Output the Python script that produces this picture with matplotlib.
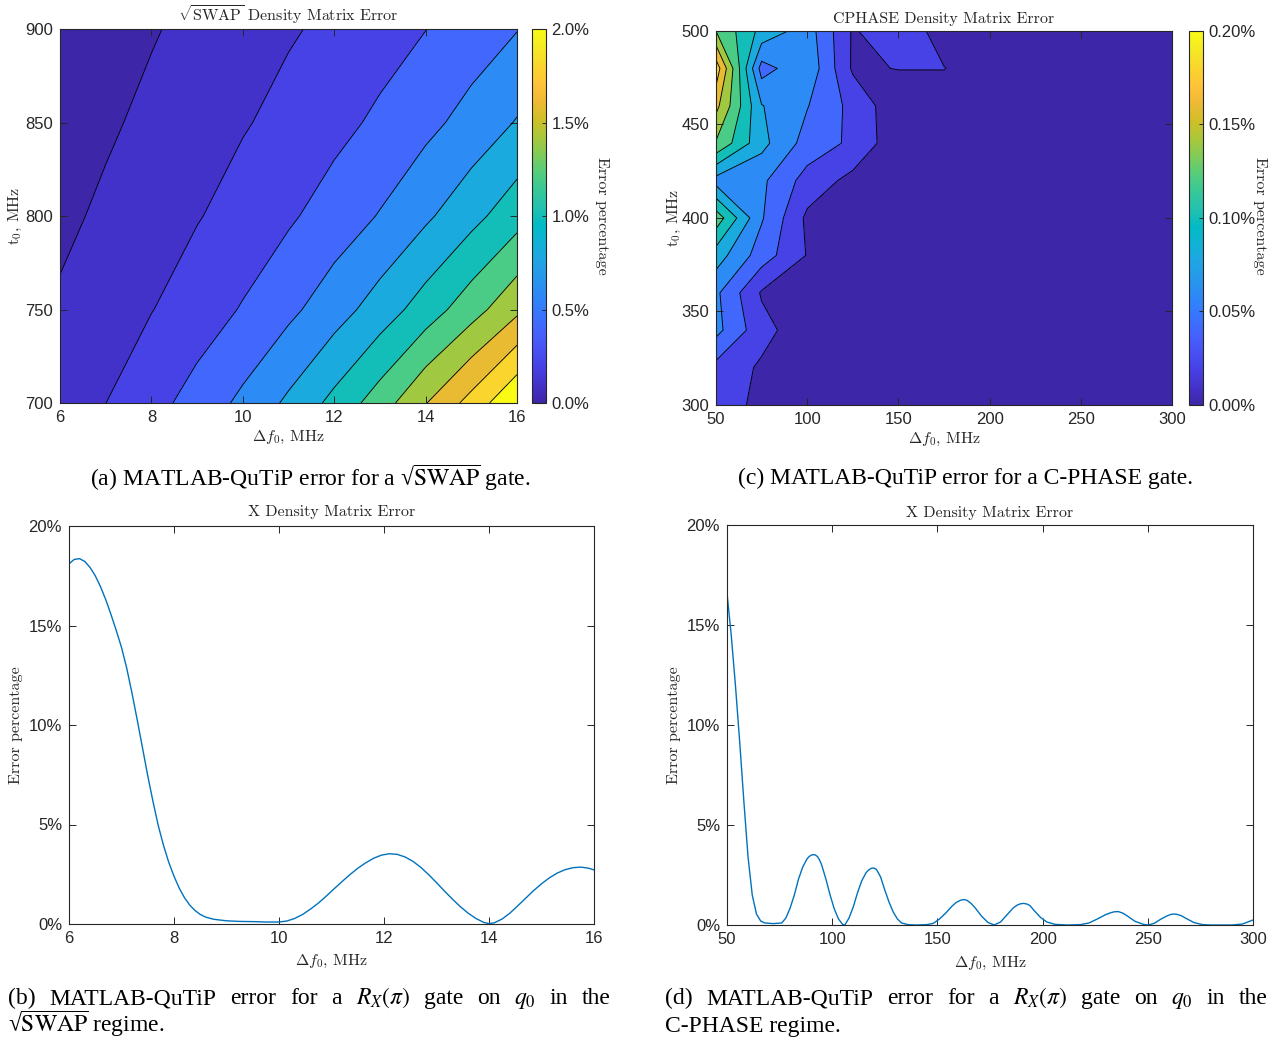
import numpy as np
import matplotlib
matplotlib.use("Agg")
import matplotlib.pyplot as plt
from matplotlib.colors import LinearSegmentedColormap, Normalize
from matplotlib.ticker import FuncFormatter
import matplotlib.cm as cm

# ---------------------------------------------------------------- data
# (a) sqrt(SWAP) density-matrix error [%] on a (t0, delta f0) grid
df_swap = [6, 7, 8, 9, 10, 11, 12, 13, 14, 15, 16]          # MHz
t0_swap = [700, 750, 800, 850, 900]                         # MHz
err_swap = [
    [0.152, 0.199, 0.331, 0.478, 0.645, 0.837, 1.057, 1.301, 1.591, 1.871, 2.194],
    [0.112, 0.153, 0.194, 0.297, 0.415, 0.553, 0.711, 0.891, 1.094, 1.315, 1.556],
    [0.080, 0.116, 0.153, 0.189, 0.271, 0.372, 0.488, 0.612, 0.766, 0.936, 1.122],
    [0.054, 0.087, 0.120, 0.153, 0.186, 0.251, 0.341, 0.437, 0.546, 0.670, 0.813],
    [0.033, 0.063, 0.093, 0.123, 0.153, 0.183, 0.235, 0.316, 0.397, 0.495, 0.593],
]
levels_swap = [0, 0.1, 0.2, 0.4, 0.6, 0.8, 1.0, 1.2, 1.4, 1.6, 1.8, 2.0, 3.0]

# (c) CPHASE density-matrix error [%]
df_cp = [50, 75, 100, 125, 150, 175, 200, 225, 250, 275, 300]
t0_cp = [300, 320, 340, 360, 380, 400, 420, 440, 460, 480, 500]
err_cp = [
    [0.032, 0.014, 0.006, 0.005, 0.005, 0.004, 0.004, 0.003, 0.003, 0.003, 0.003],
    [0.034, 0.017, 0.006, 0.005, 0.004, 0.004, 0.004, 0.003, 0.003, 0.003, 0.002],
    [0.066, 0.027, 0.007, 0.005, 0.004, 0.004, 0.003, 0.003, 0.003, 0.002, 0.002],
    [0.064, 0.018, 0.007, 0.005, 0.004, 0.004, 0.003, 0.003, 0.002, 0.002, 0.002],
    [0.090, 0.050, 0.019, 0.006, 0.005, 0.004, 0.003, 0.003, 0.002, 0.002, 0.002],
    [0.132, 0.062, 0.016, 0.006, 0.005, 0.004, 0.003, 0.003, 0.002, 0.002, 0.002],
    [0.072, 0.064, 0.032, 0.014, 0.006, 0.005, 0.004, 0.003, 0.003, 0.002, 0.002],
    [0.138, 0.086, 0.052, 0.036, 0.006, 0.005, 0.004, 0.003, 0.003, 0.002, 0.002],
    [0.166, 0.081, 0.061, 0.034, 0.006, 0.006, 0.004, 0.003, 0.003, 0.003, 0.002],
    [0.192, 0.052, 0.0752, 0.0172, 0.0206, 0.0206, 0.008, 0.004, 0.003, 0.003, 0.003],
    [0.140, 0.0938, 0.070, 0.0177, 0.0356, 0.010, 0.006, 0.004, 0.003, 0.003, 0.003],
]
levels_cp = [0, 0.02, 0.04, 0.06, 0.08, 0.10, 0.12, 0.14, 0.16, 0.18, 0.20, 1.0]

# (b) X-gate error in the sqrt(SWAP) regime
df_x_swap = [6.0, 6.1, 6.2, 6.3, 6.4, 6.5, 6.6, 6.7, 6.8, 6.9, 7.0, 7.1, 7.2, 7.3,
             7.4, 7.5, 7.6, 7.7, 7.8, 7.9, 8.0, 8.1, 8.2, 8.3, 8.4, 8.5, 8.6,
             8.75, 9.0, 9.25, 9.5, 9.75, 10.0, 10.15, 10.3, 10.45, 10.6, 10.75,
             10.9, 11.05, 11.2, 11.35, 11.5, 11.65, 11.8, 11.95, 12.1, 12.25,
             12.4, 12.55, 12.7, 12.85, 13.0, 13.15, 13.3, 13.45, 13.6, 13.75,
             13.9, 14.0, 14.1, 14.25, 14.4, 14.55, 14.7, 14.85, 15.0, 15.15,
             15.3, 15.45, 15.6, 15.75, 15.9, 16.0]
err_x_swap = [18.10, 18.32, 18.36, 18.22, 17.92, 17.50, 16.95, 16.30, 15.55, 14.75,
              13.90, 12.85, 11.60, 10.25, 8.85, 7.45, 6.15, 4.95, 3.95, 3.10, 2.40,
              1.80, 1.32, 0.95, 0.68, 0.48, 0.35, 0.24, 0.16, 0.13, 0.12, 0.10,
              0.10, 0.15, 0.28, 0.48, 0.75, 1.05, 1.40, 1.77, 2.13, 2.48, 2.80,
              3.07, 3.30, 3.46, 3.53, 3.50, 3.37, 3.15, 2.85, 2.48, 2.08, 1.66,
              1.26, 0.88, 0.55, 0.28, 0.08, 0.02, 0.06, 0.25, 0.55, 0.92, 1.30,
              1.68, 2.02, 2.32, 2.56, 2.73, 2.83, 2.86, 2.80, 2.72]

# (d) X-gate error in the CPHASE regime
df_x_cp = [50, 52, 54, 56, 58, 60, 62, 64, 66, 68, 72, 76, 78, 80, 82, 84, 86, 88,
           89, 90, 91, 92, 93, 94, 95, 97, 99, 101, 103, 105, 106, 108, 110, 112,
           114, 116, 117, 118, 119, 120, 121, 122, 123, 125, 127, 129, 131, 133,
           136, 140, 145, 148, 151, 154, 157, 159, 161, 162.5, 164, 166, 168, 171,
           174, 177, 180, 183, 186, 188, 189.5, 191, 192.5, 194, 196, 199, 202,
           206, 212, 218, 222, 226, 230, 232, 234, 236, 238, 240, 244, 248, 250,
           253, 256, 259, 261, 262.5, 264, 266, 268, 272, 276, 280, 290, 295, 300]
err_x_cp = [16.6, 14.5, 12.0, 9.2, 6.2, 3.4, 1.5, 0.55, 0.2, 0.1, 0.07, 0.1, 0.35,
            0.85, 1.5, 2.3, 2.9, 3.3, 3.42, 3.49, 3.52, 3.5, 3.42, 3.25, 3.0, 2.3,
            1.5, 0.8, 0.3, 0.02, 0.0, 0.35, 0.9, 1.6, 2.2, 2.6, 2.72, 2.8, 2.85,
            2.84, 2.78, 2.6, 2.4, 1.75, 1.15, 0.65, 0.3, 0.1, 0.02, 0.0, 0.02,
            0.08, 0.3, 0.6, 0.95, 1.13, 1.24, 1.27, 1.24, 1.08, 0.85, 0.44, 0.13,
            0.0, 0.15, 0.5, 0.85, 1.0, 1.06, 1.08, 1.05, 0.97, 0.72, 0.38, 0.15,
            0.03, 0.0, 0.02, 0.1, 0.3, 0.52, 0.6, 0.66, 0.67, 0.6, 0.47, 0.18,
            0.03, 0.0, 0.08, 0.28, 0.45, 0.53, 0.55, 0.53, 0.46, 0.34, 0.12, 0.02,
            0.0, 0.0, 0.05, 0.25]

# ---------------------------------------------------------------- style
parula = LinearSegmentedColormap.from_list("parula", [
    (0.2422, 0.1504, 0.6603), (0.2647, 0.1978, 0.7952), (0.2783, 0.2559, 0.8991),
    (0.2810, 0.3228, 0.9579), (0.2699, 0.3892, 0.9906), (0.2206, 0.4603, 0.9973),
    (0.1786, 0.5289, 0.9682), (0.1540, 0.5902, 0.9218), (0.1248, 0.6459, 0.8883),
    (0.0689, 0.6948, 0.8394), (0.0067, 0.7312, 0.7660), (0.1408, 0.7584, 0.6842),
    (0.2161, 0.7843, 0.5923), (0.3406, 0.8008, 0.4789), (0.5044, 0.7993, 0.3480),
    (0.6720, 0.7793, 0.2227), (0.8203, 0.7498, 0.1535), (0.9393, 0.7288, 0.2100),
    (0.9970, 0.7659, 0.2199), (0.9786, 0.8386, 0.1766), (0.9597, 0.9135, 0.1423),
    (0.9769, 0.9839, 0.0805)], N=256)

AX_COLOR = "#262626"
LINE_BLUE = "#0072BD"
TICK_FONT = "Liberation Sans"
LABEL_FONT = dict(fontfamily="cmr10", math_fontfamily="cm", color=AX_COLOR)
CAPTION_FONT = dict(fontfamily="Liberation Serif", math_fontfamily="stix",
                    color="black", fontsize=17)
SQRT_SWAP = "\u221a$\\overline{\\mathrm{SWAP}}$"

plt.rcParams["axes.unicode_minus"] = False

W, H = 1281, 1041
fig = plt.figure(figsize=(W / 100, H / 100), dpi=100)


def px_axes(left, top, right, bottom):
    return fig.add_axes([left / W, 1 - bottom / H, (right - left) / W, (bottom - top) / H])


def style_axes(ax, xticks, yticks, yfmt=None):
    ax.set_xticks(xticks)
    ax.set_yticks(yticks)
    ax.tick_params(direction="in", length=5, width=0.7, top=True, right=True,
                   colors=AX_COLOR, labelsize=12, pad=5)
    for lab in ax.get_xticklabels() + ax.get_yticklabels():
        lab.set_fontfamily(TICK_FONT)
    for sp in ax.spines.values():
        sp.set_color(AX_COLOR)
        sp.set_linewidth(0.8)
    if yfmt is not None:
        ax.yaxis.set_major_formatter(FuncFormatter(yfmt))


def add_colorbar(rect, vmax, ticks, fmt):
    cax = px_axes(*rect)
    cb = fig.colorbar(cm.ScalarMappable(norm=Normalize(0, vmax), cmap=parula), cax=cax)
    cb.set_ticks(ticks)
    cb.ax.yaxis.set_major_formatter(FuncFormatter(fmt))
    cb.ax.tick_params(direction="in", length=3, width=0.7, colors=AX_COLOR,
                      labelsize=12, pad=4)
    for lab in cb.ax.get_yticklabels():
        lab.set_fontfamily(TICK_FONT)
    cb.outline.set_edgecolor(AX_COLOR)
    cb.outline.set_linewidth(0.8)
    return cb


def contour_panel(ax, x, y, z, levels, vmax):
    z = np.asarray(z)
    fills = [parula(lv / vmax) for lv in levels[:-1]]
    ax.contourf(x, y, z, levels=levels, colors=fills)
    ax.contour(x, y, z, levels=levels[1:-1], colors="black", linewidths=0.65)


# ---------------------------------------------------------------- (a)
ax_a = px_axes(60, 29, 517, 403)
contour_panel(ax_a, df_swap, t0_swap, err_swap, levels_swap, 2.0)
ax_a.set_xlim(6, 16)
ax_a.set_ylim(700, 900)
style_axes(ax_a, [6, 8, 10, 12, 14, 16], [700, 750, 800, 850, 900])
ax_a.set_title(r"$\sqrt{\mathrm{SWAP}}$ Density Matrix Error", fontsize=11.5, pad=6, **LABEL_FONT)
ax_a.set_xlabel(r"$\Delta f_0$, MHz", fontsize=11.5, labelpad=3, **LABEL_FONT)
ax_a.set_ylabel(r"$\mathrm{t}_0$, MHz", fontsize=11.5, labelpad=1, **LABEL_FONT)
add_colorbar((532, 29, 546, 403), 2.0, [0, 0.5, 1.0, 1.5, 2.0], lambda v, p: f"{v:.1f}%")
fig.text(602 / W, 1 - 216 / H, "Error percentage", rotation=270, ha="center",
         va="center", fontsize=11.5, **LABEL_FONT)

# ---------------------------------------------------------------- (c)
ax_c = px_axes(716, 31, 1172, 405)
contour_panel(ax_c, df_cp, t0_cp, err_cp, levels_cp, 0.2)
ax_c.set_xlim(50, 300)
ax_c.set_ylim(300, 500)
style_axes(ax_c, [50, 100, 150, 200, 250, 300], [300, 350, 400, 450, 500])
ax_c.set_title("CPHASE Density Matrix Error", fontsize=11.5, pad=6, **LABEL_FONT)
ax_c.set_xlabel(r"$\Delta f_0$, MHz", fontsize=11.5, labelpad=3, **LABEL_FONT)
ax_c.set_ylabel(r"$\mathrm{t}_0$, MHz", fontsize=11.5, labelpad=-1, **LABEL_FONT)
add_colorbar((1189, 31, 1203, 405), 0.2, [0, 0.05, 0.10, 0.15, 0.20], lambda v, p: f"{v:.2f}%")
fig.text(1260 / W, 1 - 216 / H, "Error percentage", rotation=270, ha="center",
         va="center", fontsize=11.5, **LABEL_FONT)

# ---------------------------------------------------------------- (b)
ax_b = px_axes(69, 526, 594, 924)
ax_b.plot(df_x_swap, err_x_swap, color=LINE_BLUE, lw=1.0)
ax_b.set_xlim(6, 16)
ax_b.set_ylim(0, 20)
style_axes(ax_b, [6, 8, 10, 12, 14, 16], [0, 5, 10, 15, 20], lambda v, p: f"{v:.0f}%")
ax_b.set_title("X Density Matrix Error", fontsize=11.5, pad=7, **LABEL_FONT)
ax_b.set_xlabel(r"$\Delta f_0$, MHz", fontsize=11.5, labelpad=5, **LABEL_FONT)
ax_b.set_ylabel("Error percentage", fontsize=11.5, labelpad=4, **LABEL_FONT)

# ---------------------------------------------------------------- (d)
ax_d = px_axes(727, 525, 1253, 925)
ax_d.plot(df_x_cp, err_x_cp, color=LINE_BLUE, lw=1.0)
ax_d.set_xlim(50, 300)
ax_d.set_ylim(0, 20)
style_axes(ax_d, [50, 100, 150, 200, 250, 300], [0, 5, 10, 15, 20], lambda v, p: f"{v:.0f}%")
ax_d.set_title("X Density Matrix Error", fontsize=11.5, pad=6, **LABEL_FONT)
ax_d.set_xlabel(r"$\Delta f_0$, MHz", fontsize=11.5, labelpad=6, **LABEL_FONT)
ax_d.set_ylabel("Error percentage", fontsize=11.5, labelpad=4, **LABEL_FONT)

# ---------------------------------------------------------------- captions
fig.text(310 / W, 1 - 486 / H, "(a) MATLAB-QuTiP error for a " + SQRT_SWAP + " gate.",
         ha="center", va="baseline", **CAPTION_FONT)
fig.text(966 / W, 1 - 484 / H, "(c) MATLAB-QuTiP error for a C-PHASE gate.",
         ha="center", va="baseline", **CAPTION_FONT)

renderer = fig.canvas.get_renderer()


def justified(words, x_left, x_right, y_base):
    texts = [fig.text(0, 1 - y_base / H, w, ha="left", va="baseline", **CAPTION_FONT)
             for w in words]
    widths = [t.get_window_extent(renderer).width for t in texts]
    gap = ((x_right - x_left) - sum(widths)) / (len(words) - 1)
    x = x_left
    for t, w in zip(texts, widths):
        t.set_x(x / W)
        x += w + gap


line_words = ["MATLAB-QuTiP", "error", "for", "a", r"$R_X(\pi)$", "gate", "on",
              r"$q_0$", "in", "the"]
justified(["(b)"] + line_words, 8, 611, 1004)
justified(["(d)"] + line_words, 665, 1268, 1004)
fig.text(8 / W, 1 - 1032 / H, SQRT_SWAP + " regime.", ha="left", va="baseline",
         **CAPTION_FONT)
fig.text(665 / W, 1 - 1032 / H, "C-PHASE regime.", ha="left", va="baseline",
         **CAPTION_FONT)

fig.savefig("out.png", dpi=100)
